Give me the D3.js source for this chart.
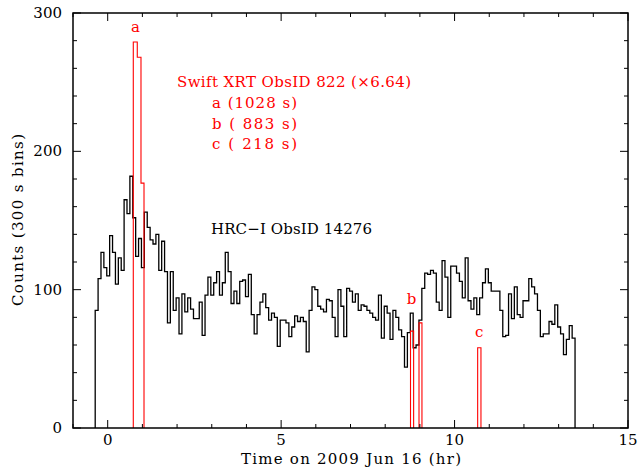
<!DOCTYPE html>
<html><head><meta charset="utf-8">
<script src="https://cdn.jsdelivr.net/npm/d3@7"></script>
<style>
html,body{margin:0;padding:0;background:#fff;}
text{font-family:"DejaVu Serif",serif;white-space:pre;}
</style></head>
<body><svg id="c" width="639" height="468"></svg>
<script>
// ---- data ----
const hrcStart = -0.36;          // hr, start of first 300 s bin
const binWidth = 300 / 3600;     // hr
const hrcCounts = [
  85,108,127,116,110,139,127,104,123,114,165,155,182,152,124,137,116,156,145,136,133,140,114,135,113,76,113,85,94,68,97,84,
  94,86,79,79,91,67,96,109,96,105,113,96,105,127,113,90,99,90,106,107,95,111,82,68,82,91,97,87,78,83,80,59,78,78,
  76,66,73,81,77,80,77,55,85,102,100,88,86,84,93,92,80,66,100,88,66,101,99,91,97,85,89,88,85,83,80,78,96,65,
  88,83,64,85,80,71,66,44,69,83,58,60,78,101,112,111,114,112,91,85,121,109,80,117,117,112,106,94,123,92,86,94,82,
  94,105,115,105,99,99,99,85,66,67,97,79,102,82,80,92,92,108,102,97,85,66,68,68,77,75,89,73,68,53,64,74,65
];
// Swift XRT segments (scaled x6.64): bin edges (hr) and counts
const xrtEdges = [
  [0.738, 0.853, 0.960, 1.047],
  [8.73, 8.82],
  [8.975, 9.06],
  [10.666, 10.761]
];
const xrtCounts = [
  [279, 268, 177],
  [70],
  [76],
  [58]
];
const peakLabels = ["a", "b", "c"];
const peakLabelTimes = [0.80, 8.76, 10.71];
const peakLabelCounts = [286, 90, 66];
const xTicks = [0, 5, 10, 15];
const yTicks = [0, 100, 200, 300];
const legendTitle = "Swift XRT ObsID 822 (×6.64)";
const legendLines = ["a (1028 s)", "b ( 883 s)", "c ( 218 s)"];
const hrcLabel = "HRC\u2212I ObsID 14276";
const xTitle = "Time on 2009 Jun 16 (hr)";
const yTitle = "Counts (300 s bins)";

// ---- layout ----
const L = 73, R = 628, T = 13, B = 428;
const svg = d3.select("#c");
const x = d3.scaleLinear().domain([-1, 15]).range([L, R]);
const y = d3.scaleLinear().domain([0, 300]).range([B, T]);
const FS = 15;

// histogram for HRC
const n = hrcCounts.length;
const pts = [[hrcStart, 0]];
hrcCounts.forEach((v, i) => pts.push([hrcStart + i * binWidth, v]));
pts.push([hrcStart + n * binWidth, hrcCounts[n - 1]]);
pts.push([hrcStart + n * binWidth, 0]);
const line = d3.line().x(d => x(d[0])).y(d => y(d[1])).curve(d3.curveStepAfter);
svg.append("path").attr("d", line(pts)).attr("fill", "none")
  .attr("stroke", "#000").attr("stroke-width", 1.3);

// XRT segments
xrtEdges.forEach((edges, k) => {
  const vals = xrtCounts[k];
  const p = [[edges[0], 0]];
  vals.forEach((v, i) => p.push([edges[i], v]));
  p.push([edges[edges.length - 1], vals[vals.length - 1]]);
  p.push([edges[edges.length - 1], 0]);
  svg.append("path").attr("d", line(p)).attr("fill", "none")
    .attr("stroke", "#ff0000").attr("stroke-width", 1.1);
});

// frame
svg.append("rect").attr("x", L).attr("y", T).attr("width", R - L).attr("height", B - T)
  .attr("fill", "none").attr("stroke", "#000").attr("stroke-width", 1.5);

// ticks (inward, all sides)
const xMinor = d3.range(-1, 15.001, 1);
const yMinor = d3.range(0, 300.001, 20);
const tk = svg.append("g").attr("stroke", "#000").attr("stroke-width", 1);
xMinor.forEach(t => {
  const len = xTicks.includes(t) ? 8 : 4;
  tk.append("line").attr("x1", x(t)).attr("x2", x(t)).attr("y1", B).attr("y2", B - len);
  tk.append("line").attr("x1", x(t)).attr("x2", x(t)).attr("y1", T).attr("y2", T + len);
});
yMinor.forEach(v => {
  const len = yTicks.includes(v) ? 8 : 4;
  tk.append("line").attr("y1", y(v)).attr("y2", y(v)).attr("x1", L).attr("x2", L + len);
  tk.append("line").attr("y1", y(v)).attr("y2", y(v)).attr("x1", R).attr("x2", R - len);
});

// tick labels
svg.append("g").selectAll("text").data(xTicks).join("text")
  .attr("x", d => x(d)).attr("y", 445).attr("text-anchor", "middle")
  .attr("font-size", FS).text(d => d);
svg.append("g").selectAll("text").data(yTicks).join("text")
  .attr("x", 62).attr("y", d => y(d) + 5).attr("text-anchor", "end")
  .attr("font-size", FS).text(d => d);

// axis titles
svg.append("text").attr("x", 241).attr("y", 464)
  .attr("font-size", FS).attr("textLength", 220).attr("lengthAdjust", "spacing").text(xTitle);
svg.append("text").attr("transform", "translate(23,306) rotate(-90)")
  .attr("font-size", FS).attr("textLength", 172).attr("lengthAdjust", "spacing").text(yTitle);

// red labels on peaks
svg.append("g").selectAll("text").data(peakLabels).join("text")
  .attr("x", (d, i) => x(peakLabelTimes[i])).attr("y", (d, i) => y(peakLabelCounts[i]))
  .attr("text-anchor", "middle").attr("fill", "#ff0000").attr("font-size", FS).text(d => d);

// legend text
svg.append("text").attr("x", 177).attr("y", 87).attr("fill", "#ff0000")
  .attr("font-size", FS).attr("textLength", 234).attr("lengthAdjust", "spacing").text(legendTitle);
legendLines.forEach((s, i) => {
  svg.append("text").attr("x", 212).attr("y", 108 + i * 20.5).attr("fill", "#ff0000")
    .attr("font-size", FS).attr("textLength", 85).attr("lengthAdjust", "spacing").text(s);
});
svg.append("text").attr("x", 211).attr("y", 234).attr("fill", "#000")
  .attr("font-size", FS).attr("textLength", 161).attr("lengthAdjust", "spacing").text(hrcLabel);
</script></body></html>
